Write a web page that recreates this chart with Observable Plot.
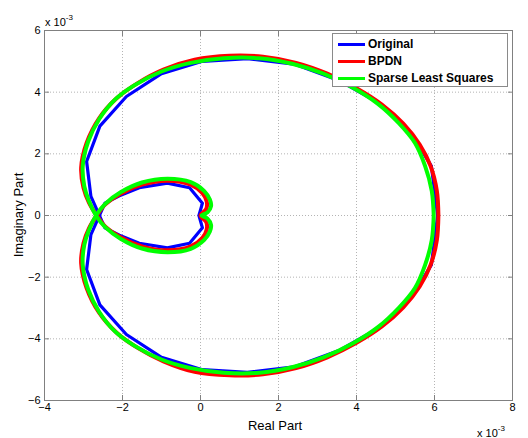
<!DOCTYPE html>
<html><head><meta charset="utf-8">
<script src="https://cdn.jsdelivr.net/npm/d3@7"></script>
<script src="https://cdn.jsdelivr.net/npm/@observablehq/plot@0.6"></script>
<style>
body{margin:0;background:#fff;}
#wrap{position:relative;width:528px;height:438px;font-family:"Liberation Sans",Arial,Helvetica,sans-serif;color:#000;overflow:hidden;}
#wrap svg{position:absolute;left:0;top:0;}
.t{position:absolute;white-space:nowrap;line-height:1;}
.sup{font-size:8px;position:relative;top:-6px;}
#legend{position:absolute;left:332px;top:33px;width:176px;height:54px;border:1px solid #8a8a8a;background:#fff;box-sizing:border-box;}
.row{position:absolute;left:0;right:0;height:17px;font-size:12px;font-weight:bold;white-space:nowrap;}
.row .sw{position:absolute;left:5px;top:7px;width:27px;height:3px;}
.row .lt{position:absolute;left:35px;top:2px;white-space:nowrap;line-height:1;}
</style></head><body><div id="wrap"></div>
<script>
const xTicks = [-4, -2, 0, 2, 4, 6, 8];
const yTicks = [-6, -4, -2, 0, 2, 4, 6];
const seriesNames = ["Original", "BPDN", "Sparse Least Squares"];
const seriesColors = ["#0000ff", "#ff0000", "#00ff00"];

// Original (values in units of 1e-3)
const originalX = [6.08, 5.92, 5.4, 4.6, 3.55, 2.4, 1.2, 0.05, -1.0, -1.9, -2.58, -2.92, -2.81, -2.45, -2.08, -1.57, -0.85, -0.28, 0.05, -0.04, 0.05, -0.28, -0.85, -1.57, -2.08, -2.45, -2.81, -2.92, -2.58, -1.9, -1.0, 0.05, 1.2, 2.4, 3.55, 4.6, 5.4, 5.92, 6.08];
const originalY = [0, 1.6, 2.68, 3.63, 4.38, 4.91, 5.09, 5.0, 4.6, 3.86, 2.9, 1.75, 0.62, -0.4, -0.64, -0.9, -1.05, -0.9, -0.4, 0, 0.4, 0.9, 1.05, 0.9, 0.64, 0.4, -0.62, -1.75, -2.9, -3.86, -4.6, -5.0, -5.09, -4.91, -4.38, -3.63, -2.68, -1.6, 0];

// BPDN
const bpdnX = [6.1, 6.06, 5.9, 5.62, 5.2, 4.65, 4.0, 3.25, 2.45, 1.6, 0.75, -0.15, -0.95, -1.6, -2.15, -2.6, -2.92, -3.06, -3.0, -2.86, -2.66,
  -2.44, -2.06, -1.5, -0.85, -0.25, 0.05, 0.16, 0.15, 0.0,
  0.15, 0.16, 0.05, -0.25, -0.85, -1.5, -2.06, -2.44, -2.66,
  -2.86, -3.0, -3.06, -2.92, -2.6, -2.15, -1.6, -0.95, -0.15, 0.75, 1.6, 2.45, 3.25, 4.0, 4.65, 5.2, 5.62, 5.9, 6.06, 6.1];
const bpdnY = [0, 0.8, 1.6, 2.3, 2.98, 3.6, 4.13, 4.6, 4.95, 5.15, 5.18, 5.05, 4.73, 4.3, 3.8, 3.15, 2.35, 1.55, 0.9, 0.42, 0,
  -0.36, -0.7, -1.0, -1.13, -1.0, -0.72, -0.45, -0.22, 0,
  0.22, 0.45, 0.72, 1.0, 1.13, 1.0, 0.7, 0.36, 0,
  -0.42, -0.9, -1.55, -2.35, -3.15, -3.8, -4.3, -4.73, -5.07, -5.18, -5.15, -4.95, -4.6, -4.13, -3.6, -2.98, -2.3, -1.6, -0.8, 0];

// Sparse Least Squares
const slsX = [5.98, 5.93, 5.76, 5.5, 5.08, 4.55, 3.9, 3.15, 2.35, 1.5, 0.6, -0.25, -1.0, -1.7, -2.2, -2.6, -2.88, -3.02, -2.98, -2.87, -2.68,
  -2.45, -2.04, -1.5, -0.84, -0.25, 0.09, 0.24, 0.27, 0.18, 0.03,
  0.18, 0.27, 0.24, 0.09, -0.25, -0.84, -1.5, -2.04, -2.45, -2.68,
  -2.87, -2.98, -3.02, -2.88, -2.6, -2.2, -1.7, -1.0, -0.25, 0.6, 1.5, 2.35, 3.15, 3.9, 4.55, 5.08, 5.5, 5.76, 5.93, 5.98];
const slsY = [0, 0.8, 1.6, 2.35, 3.0, 3.62, 4.15, 4.6, 4.92, 5.1, 5.1, 4.95, 4.67, 4.22, 3.75, 3.12, 2.4, 1.6, 0.95, 0.5, 0,
  -0.37, -0.76, -1.07, -1.19, -1.08, -0.8, -0.52, -0.3, -0.1, 0,
  0.1, 0.3, 0.52, 0.8, 1.08, 1.19, 1.07, 0.76, 0.37, 0,
  -0.5, -0.95, -1.6, -2.4, -3.12, -3.75, -4.22, -4.67, -4.95, -5.1, -5.1, -4.92, -4.6, -4.15, -3.62, -3.0, -2.35, -1.6, -0.8, 0];

const toPts = (xs, ys) => xs.map((x, i) => ({x, y: ys[i]}));
const orig = toPts(originalX, originalY);
const bpdn = toPts(bpdnX, bpdnY);
const sls = toPts(slsX, slsY);

const axisColor = "#808080";
const gridStyle = {stroke: "#b4b4b4", strokeOpacity: 1, strokeDasharray: "1,2", strokeWidth: 1};

const chart = Plot.plot({
  width: 528, height: 438,
  marginLeft: 44, marginRight: 16, marginTop: 30, marginBottom: 38,
  style: {fontFamily: '"Liberation Sans", Arial, Helvetica, sans-serif', fontSize: "11px", color: "#000", background: "transparent"},
  x: {domain: [-4, 8]},
  y: {domain: [-6, 6]},
  marks: [
    Plot.gridX(xTicks, gridStyle),
    Plot.gridY(yTicks, gridStyle),
    Plot.line(orig, {x: "x", y: "y", stroke: seriesColors[0], strokeWidth: 3.2, strokeLinejoin: "round"}),
    Plot.line(bpdn, {x: "x", y: "y", stroke: seriesColors[1], strokeWidth: 4, curve: "catmull-rom", strokeLinejoin: "round"}),
    Plot.line(sls, {x: "x", y: "y", stroke: seriesColors[2], strokeWidth: 4, curve: "catmull-rom", strokeLinejoin: "round"}),
    Plot.frame({stroke: axisColor}),
    Plot.axisX(xTicks, {anchor: "bottom", tickSize: -5, tickFormat: () => "", label: null, stroke: axisColor}),
    Plot.axisX(xTicks, {anchor: "top", tickSize: -5, tickFormat: () => "", label: null, stroke: axisColor}),
    Plot.axisY(yTicks, {anchor: "left", tickSize: -5, tickFormat: () => "", label: null, stroke: axisColor}),
    Plot.axisY(yTicks, {anchor: "right", tickSize: -5, tickFormat: () => "", label: null, stroke: axisColor}),
    Plot.axisX(xTicks, {anchor: "bottom", tickSize: 0, tickPadding: 3, label: null, fill: "#000"}),
    Plot.axisY(yTicks, {anchor: "left", tickSize: 0, tickPadding: 4, label: null, fill: "#000"})
  ]
});
const wrap = document.getElementById("wrap");
wrap.appendChild(chart);

function addText(html, left, top, css) {
  const d = document.createElement("div");
  d.className = "t";
  d.innerHTML = html;
  d.style.left = left + "px";
  d.style.top = top + "px";
  if (css) Object.assign(d.style, css);
  wrap.appendChild(d);
  return d;
}
addText("Real Part", 275, 425, {fontSize: "13px", transform: "translate(-50%,-50%)"});
addText("Imaginary Part", 18, 215, {fontSize: "13px", transform: "translate(-50%,-50%) rotate(-90deg)"});
addText('x 10<span class="sup">-3</span>', 45, 17, {fontSize: "11px"});
addText('x 10<span class="sup">-3</span>', 477, 428, {fontSize: "11px"});

const legend = document.createElement("div");
legend.id = "legend";
seriesNames.forEach((name, i) => {
  const r = document.createElement("div");
  r.className = "row";
  r.style.top = (2 + i * 17) + "px";
  r.innerHTML = `<div class="sw" style="background:${seriesColors[i]}"></div><div class="lt">${name}</div>`;
  legend.appendChild(r);
});
wrap.appendChild(legend);
</script>
</body></html>
